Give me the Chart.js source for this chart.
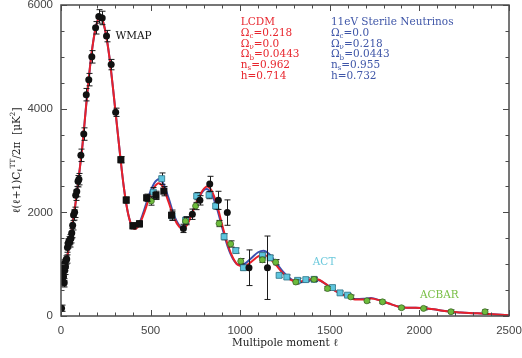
<!DOCTYPE html>
<html lang="en">
<head>
<meta charset="UTF-8" />
<title>CMB TT power spectrum</title>
<script src="https://cdn.jsdelivr.net/npm/chart.js"></script>
<style>
  body { margin: 0; background: #fff; }
</style>
</head>
<body>
<canvas id="cmbChart" width="522" height="358"></canvas>
<script>
// WMAP points (circles): multipole, power [uK^2], error
const wmapL = [3, 6, 8, 10, 12, 14, 16, 18, 20, 22, 25, 28, 32, 36, 40, 44, 48, 52, 56, 60, 65, 70, 76, 82, 88, 95, 100, 111, 127, 141, 155, 172, 193, 211, 230, 254, 280, 305];
const wmapC = [150, 700, 820, 660, 900, 760, 1000, 640, 880, 1000, 950, 1080, 1100, 1320, 1400, 1440, 1420, 1480, 1500, 1600, 1750, 1950, 2000, 2330, 2400, 2600, 2640, 3100, 3510, 4270, 4560, 5000, 5560, 5780, 5750, 5400, 4850, 3930];
const wmapE = [60, 80, 80, 80, 80, 80, 80, 80, 80, 80, 80, 80, 80, 90, 90, 90, 90, 90, 90, 90, 90, 100, 100, 100, 100, 110, 110, 120, 120, 120, 120, 120, 120, 130, 130, 110, 100, 80];

// WMAP binned points (squares)
const wmapSqL = [334, 364, 401, 438, 478, 530, 574, 617];
const wmapSqC = [3015, 2237, 1740, 1778, 2281, 2327, 2409, 1944];
const wmapSqE = [60, 60, 60, 60, 70, 80, 90, 100];

// higher-l black points with larger errors
const highL = [683, 733, 775, 830, 878, 928, 1049, 1152];
const highC = [1690, 1963, 2231, 2549, 2231, 1995, 931, 931];
const highE = [80, 100, 90, 146, 175, 245, 344, 612];

// ACT
const actL = [515, 562, 620, 695, 757, 826, 863, 910, 975, 1018, 1124, 1167, 1217, 1260, 1320, 1366, 1412, 1515, 1557, 1599];
const actC = [2390, 2650, 1930, 1849, 2313, 2333, 2122, 1530, 1262, 931, 1166, 1122, 784, 752, 688, 702, 707, 549, 446, 402];
const actE = [90, 110, 80, 70, 70, 70, 60, 60, 50, 50, 50, 50, 40, 40, 40, 40, 40, 35, 35, 35];

// ACBAR
const acbarL = [504, 695, 751, 882, 947, 1003, 1124, 1198, 1310, 1412, 1487, 1617, 1707, 1794, 1900, 2023, 2176, 2366];
const acbarC = [2218, 1830, 2122, 1784, 1390, 1057, 1084, 1038, 656, 707, 530, 369, 293, 273, 159, 147, 82, 82];
const acbarE = [80, 70, 70, 60, 60, 50, 50, 50, 40, 40, 40, 35, 35, 35, 30, 30, 35, 40];

// model curves
const lcdmL = [2, 10, 20, 30, 40, 50, 60, 70, 80, 90, 100, 120, 140, 160, 180, 200, 215, 230, 250, 270, 290, 310, 330, 350, 370, 390, 410, 430, 460, 490, 520, 545, 570, 600, 630, 660, 680, 710, 750, 790, 815, 840, 870, 900, 930, 960, 990, 1020, 1060, 1100, 1130, 1160, 1200, 1240, 1280, 1320, 1360, 1410, 1440, 1480, 1520, 1560, 1600, 1640, 1690, 1730, 1780, 1830, 1880, 1930, 1980, 2030, 2080, 2130, 2180, 2230, 2300, 2370, 2430, 2500];
const lcdmC = [1000, 850, 900, 1050, 1250, 1450, 1650, 1900, 2150, 2400, 2700, 3300, 4050, 4750, 5300, 5650, 5760, 5720, 5450, 5000, 4400, 3750, 3100, 2500, 2050, 1780, 1680, 1720, 1950, 2250, 2480, 2560, 2480, 2200, 1900, 1720, 1680, 1800, 2150, 2420, 2500, 2420, 2150, 1750, 1380, 1120, 980, 960, 1040, 1150, 1180, 1130, 980, 820, 700, 660, 680, 720, 700, 610, 510, 430, 370, 320, 320, 340, 300, 240, 185, 160, 158, 150, 130, 100, 80, 68, 55, 42, 30, 15];

const sterileL = [2, 10, 20, 30, 40, 50, 60, 70, 80, 90, 100, 120, 140, 160, 180, 200, 215, 230, 250, 270, 290, 310, 330, 350, 370, 390, 410, 430, 460, 490, 520, 545, 570, 600, 630, 660, 680, 710, 750, 790, 810, 840, 870, 900, 930, 960, 990, 1020, 1060, 1100, 1130, 1160, 1200, 1240, 1280, 1320, 1360, 1410, 1440, 1480, 1520, 1560, 1600, 1640, 1690, 1730, 1780, 1830, 1880, 1930, 1980, 2030, 2080, 2130, 2180, 2230, 2300, 2370, 2430, 2500];
const sterileC = [1000, 850, 900, 1050, 1250, 1450, 1650, 1900, 2150, 2400, 2700, 3300, 4050, 4750, 5300, 5650, 5760, 5720, 5450, 5000, 4400, 3750, 3100, 2500, 2050, 1780, 1690, 1740, 2000, 2320, 2560, 2640, 2560, 2280, 1950, 1750, 1710, 1820, 2150, 2400, 2450, 2360, 2080, 1700, 1340, 1100, 990, 1000, 1110, 1230, 1260, 1200, 1030, 850, 720, 650, 660, 700, 690, 610, 510, 430, 370, 330, 335, 345, 300, 240, 185, 160, 158, 150, 130, 100, 80, 68, 55, 42, 30, 15];

const pts = (xs, ys) => xs.map((v, i) => ({ x: v, y: ys[i] }));

const serif = "'DejaVu Serif', serif";

// draw text made of pieces: [text, mode] where mode is '', 'sub' or 'sup'
function richWidth(ctx, parts, size) {
  let w = 0;
  parts.forEach(([t, m]) => {
    ctx.font = `${m ? size * 0.68 : size}px ${serif}`;
    w += ctx.measureText(t).width;
  });
  return w;
}
function drawRich(ctx, parts, x, y, size) {
  parts.forEach(([t, m]) => {
    const s = m ? size * 0.68 : size;
    ctx.font = `${s}px ${serif}`;
    const dy = m === 'sub' ? size * 0.3 : m === 'sup' ? -size * 0.38 : 0;
    ctx.fillText(t, x, y + dy);
    x += ctx.measureText(t).width;
  });
}

const lcdmText = [
  [['LCDM', '']],
  [['Ω', ''], ['c', 'sub'], ['=0.218', '']],
  [['Ω', ''], ['ν', 'sub'], ['=0.0', '']],
  [['Ω', ''], ['b', 'sub'], ['=0.0443', '']],
  [['n', ''], ['s', 'sub'], ['=0.962', '']],
  [['h=0.714', '']]
];
const sterileText = [
  [['11eV Sterile Neutrinos', '']],
  [['Ω', ''], ['c', 'sub'], ['=0.0', '']],
  [['Ω', ''], ['ν', 'sub'], ['=0.218', '']],
  [['Ω', ''], ['b', 'sub'], ['=0.0443', '']],
  [['n', ''], ['s', 'sub'], ['=0.955', '']],
  [['h=0.732', '']]
];

const decor = {
  id: 'decor',
  beforeDatasetDraw(chart, args) {
    const ds = chart.data.datasets[args.index];
    if (!ds.err) return;
    const { ctx, chartArea: a, scales: { x, y } } = chart;
    ctx.save();
    ctx.beginPath();
    ctx.rect(a.left, a.top, a.right - a.left, a.bottom - a.top);
    ctx.clip();
    ctx.strokeStyle = '#1a1a1a';
    ctx.lineWidth = 1;
    ds.data.forEach((p, i) => {
      const px = Math.round(x.getPixelForValue(p.x)) + 0.5;
      const y1 = y.getPixelForValue(p.y - ds.err[i]);
      const y2 = y.getPixelForValue(p.y + ds.err[i]);
      ctx.beginPath();
      ctx.moveTo(px, y1); ctx.lineTo(px, y2);
      ctx.moveTo(px - 3, y1); ctx.lineTo(px + 3, y1);
      ctx.moveTo(px - 3, y2); ctx.lineTo(px + 3, y2);
      ctx.stroke();
    });
    ctx.restore();
  },
  afterDraw(chart) {
    const { ctx, chartArea: a, scales: { x, y } } = chart;
    ctx.save();
    // frame
    ctx.strokeStyle = '#4a4a4a';
    ctx.lineWidth = 1.5;
    ctx.strokeRect(a.left, a.top, a.right - a.left, a.bottom - a.top);
    // inward ticks
    ctx.lineWidth = 1;
    ctx.beginPath();
    for (let v = 0; v <= 2500; v += 100) {
      const px = Math.round(x.getPixelForValue(v)) + 0.5;
      const len = v % 500 === 0 ? 6 : 3.5;
      ctx.moveTo(px, a.bottom); ctx.lineTo(px, a.bottom - len);
      ctx.moveTo(px, a.top); ctx.lineTo(px, a.top + len);
    }
    for (let v = 0; v <= 6000; v += 500) {
      const py = Math.round(y.getPixelForValue(v)) + 0.5;
      const len = v % 2000 === 0 ? 6 : 3.5;
      ctx.moveTo(a.left, py); ctx.lineTo(a.left + len, py);
      ctx.moveTo(a.right, py); ctx.lineTo(a.right - len, py);
    }
    ctx.stroke();

    // labels inside the plot
    ctx.textBaseline = 'middle';
    ctx.textAlign = 'left';
    ctx.fillStyle = '#111';
    drawRich(ctx, [['WMAP', '']], x.getPixelForValue(304), y.getPixelForValue(5392), 10.5);
    ctx.fillStyle = '#6cc9dc';
    drawRich(ctx, [['ACT', '']], x.getPixelForValue(1405), y.getPixelForValue(1033), 10.5);
    ctx.fillStyle = '#79bf45';
    drawRich(ctx, [['ACBAR', '']], x.getPixelForValue(2003), y.getPixelForValue(402), 10.5);

    ctx.fillStyle = '#e8262e';
    lcdmText.forEach((line, i) => {
      drawRich(ctx, line, x.getPixelForValue(1003), y.getPixelForValue(5660) + i * 10.7, 10.5);
    });
    ctx.fillStyle = '#3f56a8';
    sterileText.forEach((line, i) => {
      drawRich(ctx, line, x.getPixelForValue(1506), y.getPixelForValue(5660) + i * 10.7, 10.5);
    });

    // axis titles
    ctx.fillStyle = '#222';
    ctx.textAlign = 'left';
    const xt = [['Multipole moment ℓ', '']];
    const xw = richWidth(ctx, xt, 10.5);
    drawRich(ctx, xt, (a.left + a.right) / 2 - xw / 2, 343, 10.5);

    const yt = [['ℓ(ℓ+1)C', ''], ['ℓ', 'sub'], ['TT', 'sup'], ['/2π  [μK', ''], ['2', 'sup'], [']', '']];
    const yw = richWidth(ctx, yt, 10.5);
    ctx.translate(17, (a.top + a.bottom) / 2);
    ctx.rotate(-Math.PI / 2);
    drawRich(ctx, yt, -yw / 2, 0, 10.5);
    ctx.restore();
  }
};

const tickFont = { family: "'Liberation Sans', sans-serif", size: 11.5 };

new Chart(document.getElementById('cmbChart'), {
  type: 'scatter',
  data: {
    datasets: [
      {
        label: 'WMAP', data: pts(wmapL, wmapC), err: wmapE, order: 0,
        pointStyle: 'circle', pointRadius: 3.5, backgroundColor: '#111', borderColor: '#111', borderWidth: 0
      },
      {
        label: 'WMAP binned', data: pts(wmapSqL, wmapSqC), err: wmapSqE, order: 0,
        pointStyle: 'rect', pointRadius: 5, backgroundColor: '#111', borderColor: '#111', borderWidth: 0
      },
      {
        label: 'high l', data: pts(highL, highC), err: highE, order: 0,
        pointStyle: 'circle', pointRadius: 3.5, backgroundColor: '#111', borderColor: '#111', borderWidth: 0
      },
      {
        label: 'ACBAR', data: pts(acbarL, acbarC), err: acbarE, order: 0,
        pointStyle: 'circle', pointRadius: 3, backgroundColor: '#6dbb3c', borderColor: '#3b6a26', borderWidth: 0.8
      },
      {
        label: 'ACT', data: pts(actL, actC), err: actE, order: 0,
        pointStyle: 'rect', pointRadius: 4.2, backgroundColor: '#5ec5de', borderColor: '#2d7487', borderWidth: 0.8
      },
      {
        label: 'LCDM', data: pts(lcdmL, lcdmC), order: 1,
        showLine: true, pointRadius: 0, borderColor: '#e8202a', borderWidth: 2, cubicInterpolationMode: 'monotone'
      },
      {
        label: '11eV Sterile Neutrinos', data: pts(sterileL, sterileC), order: 2,
        showLine: true, pointRadius: 0, borderColor: '#3a4fb0', borderWidth: 2, cubicInterpolationMode: 'monotone'
      }
    ]
  },
  options: {
    responsive: false,
    animation: false,
    layout: { padding: { top: 2, right: 13, left: 0, bottom: 0 } },
    plugins: { legend: { display: false }, tooltip: { enabled: false } },
    scales: {
      x: {
        type: 'linear', min: 0, max: 2500,
        grid: { display: false, drawTicks: false },
        border: { display: false },
        ticks: { stepSize: 500, padding: 8, color: '#444', font: tickFont, callback: v => String(v) },
        afterFit(s) { s.height = 42; s.paddingLeft = 0; s.paddingRight = 0; }
      },
      y: {
        type: 'linear', min: 0, max: 6000,
        grid: { display: false, drawTicks: false },
        border: { display: false },
        ticks: { stepSize: 2000, padding: 8, color: '#444', font: tickFont, callback: v => String(v) },
        afterFit(s) { s.width = 61; s.paddingTop = 0; s.paddingBottom = 0; }
      }
    }
  },
  plugins: [decor]
});
</script>
</body>
</html>
